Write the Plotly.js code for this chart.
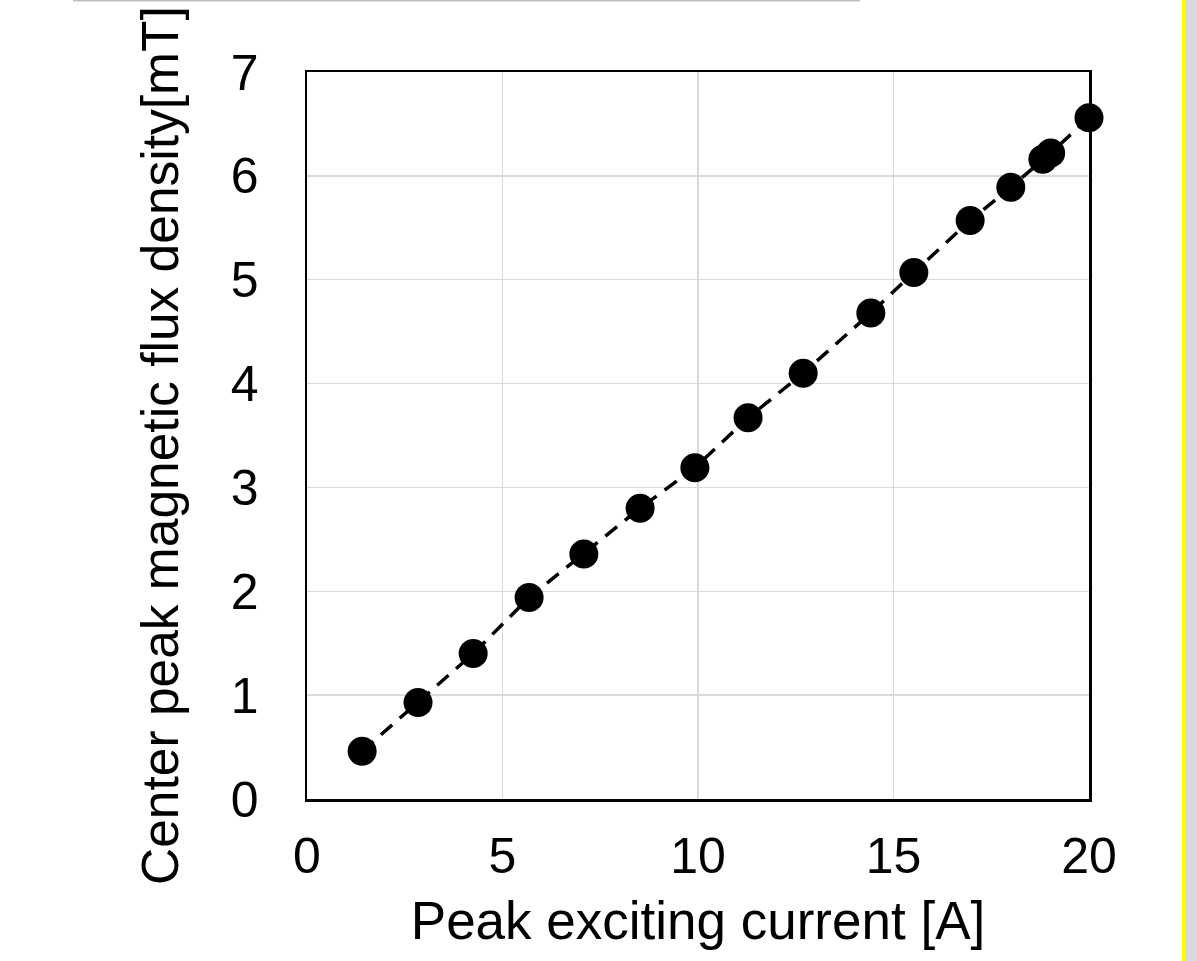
<!DOCTYPE html>
<html>
<head>
<meta charset="utf-8">
<script src="https://cdn.plot.ly/plotly-3.0.1.min.js"></script>
<style>
  html, body { margin: 0; padding: 0; background: #fff; }
  #chart { width: 1197px; height: 961px; }
</style>
</head>
<body>
<div id="chart"></div>
<script>
const currentA = [1.41, 2.84, 4.25, 5.68, 7.08, 8.52, 9.92, 11.28, 12.69, 14.42, 15.52, 16.96, 18.0, 18.82, 19.02, 20.0];
const fluxMT   = [0.46, 0.93, 1.40, 1.94, 2.36, 2.80, 3.19, 3.67, 4.10, 4.68, 5.07, 5.57, 5.89, 6.16, 6.22, 6.56];
const xTicks = [0, 5, 10, 15, 20];
const yTicks = [0, 1, 2, 3, 4, 5, 6, 7];
const xTitle = "Peak exciting current [A]";
const yTitle = "Center peak magnetic flux density[mT]";

const font = 'Liberation Sans, Arial, sans-serif';

const trace = {
  x: currentA,
  y: fluxMT,
  type: 'scatter',
  mode: 'lines+markers',
  line: { color: '#000', width: 3.5, dash: '15px,10px' },
  marker: { color: '#000', size: 29 },
  cliponaxis: false,
  showlegend: false,
  hoverinfo: 'x+y'
};

const layout = {
  width: 1197,
  height: 961,
  margin: { l: 307, r: 108, t: 72, b: 162 },
  paper_bgcolor: '#fff',
  plot_bgcolor: '#fff',
  font: { family: font, color: '#000', size: 50 },
  xaxis: {
    range: [0, 20],
    tickvals: xTicks,
    ticktext: xTicks.map(String),
    showgrid: true,
    gridcolor: '#d9d9d9',
    gridwidth: 1.5,
    zeroline: false,
    showline: true,
    linecolor: '#000',
    linewidth: 2.5,
    mirror: true,
    ticks: '',
    ticklabelstandoff: 11,
    tickfont: { size: 50, family: font },
    title: { text: xTitle, font: { size: 53, family: font }, standoff: 20 }
  },
  yaxis: {
    range: [0, 7],
    tickvals: yTicks,
    ticktext: yTicks.map(String),
    showgrid: true,
    gridcolor: '#d9d9d9',
    gridwidth: 1.5,
    zeroline: false,
    showline: true,
    linecolor: '#000',
    linewidth: 2.5,
    mirror: true,
    ticks: '',
    ticklabelstandoff: 36,
    tickfont: { size: 50, family: font }
  },
  annotations: [
    { text: yTitle, xref: 'paper', yref: 'paper',
      x: (160 - 307) / 782, y: (799 - 446) / 727,
      xanchor: 'center', yanchor: 'middle', textangle: -90,
      showarrow: false, font: { size: 51.5, family: font, color: '#000' } }
  ],
  shapes: [
    { type: 'rect', xref: 'paper', yref: 'paper',
      x0: (1185 - 307) / 782, x1: (1200 - 307) / 782, y0: -1, y1: 2,
      fillcolor: '#d9d9d9', line: { width: 0 }, layer: 'above' },
    { type: 'rect', xref: 'paper', yref: 'paper',
      x0: (1182 - 307) / 782, x1: (1185 - 307) / 782, y0: -1, y1: 2,
      fillcolor: '#ffff00', line: { width: 0 }, layer: 'above' },
    { type: 'line', xref: 'paper', yref: 'paper',
      x0: (73 - 307) / 782, x1: (860 - 307) / 782,
      y0: (799 - 0.5) / 727, y1: (799 - 0.5) / 727,
      line: { color: '#bfbfbf', width: 2 } }
  ]
};

Plotly.newPlot('chart', [trace], layout, { displayModeBar: false, staticPlot: true });
</script>
</body>
</html>
